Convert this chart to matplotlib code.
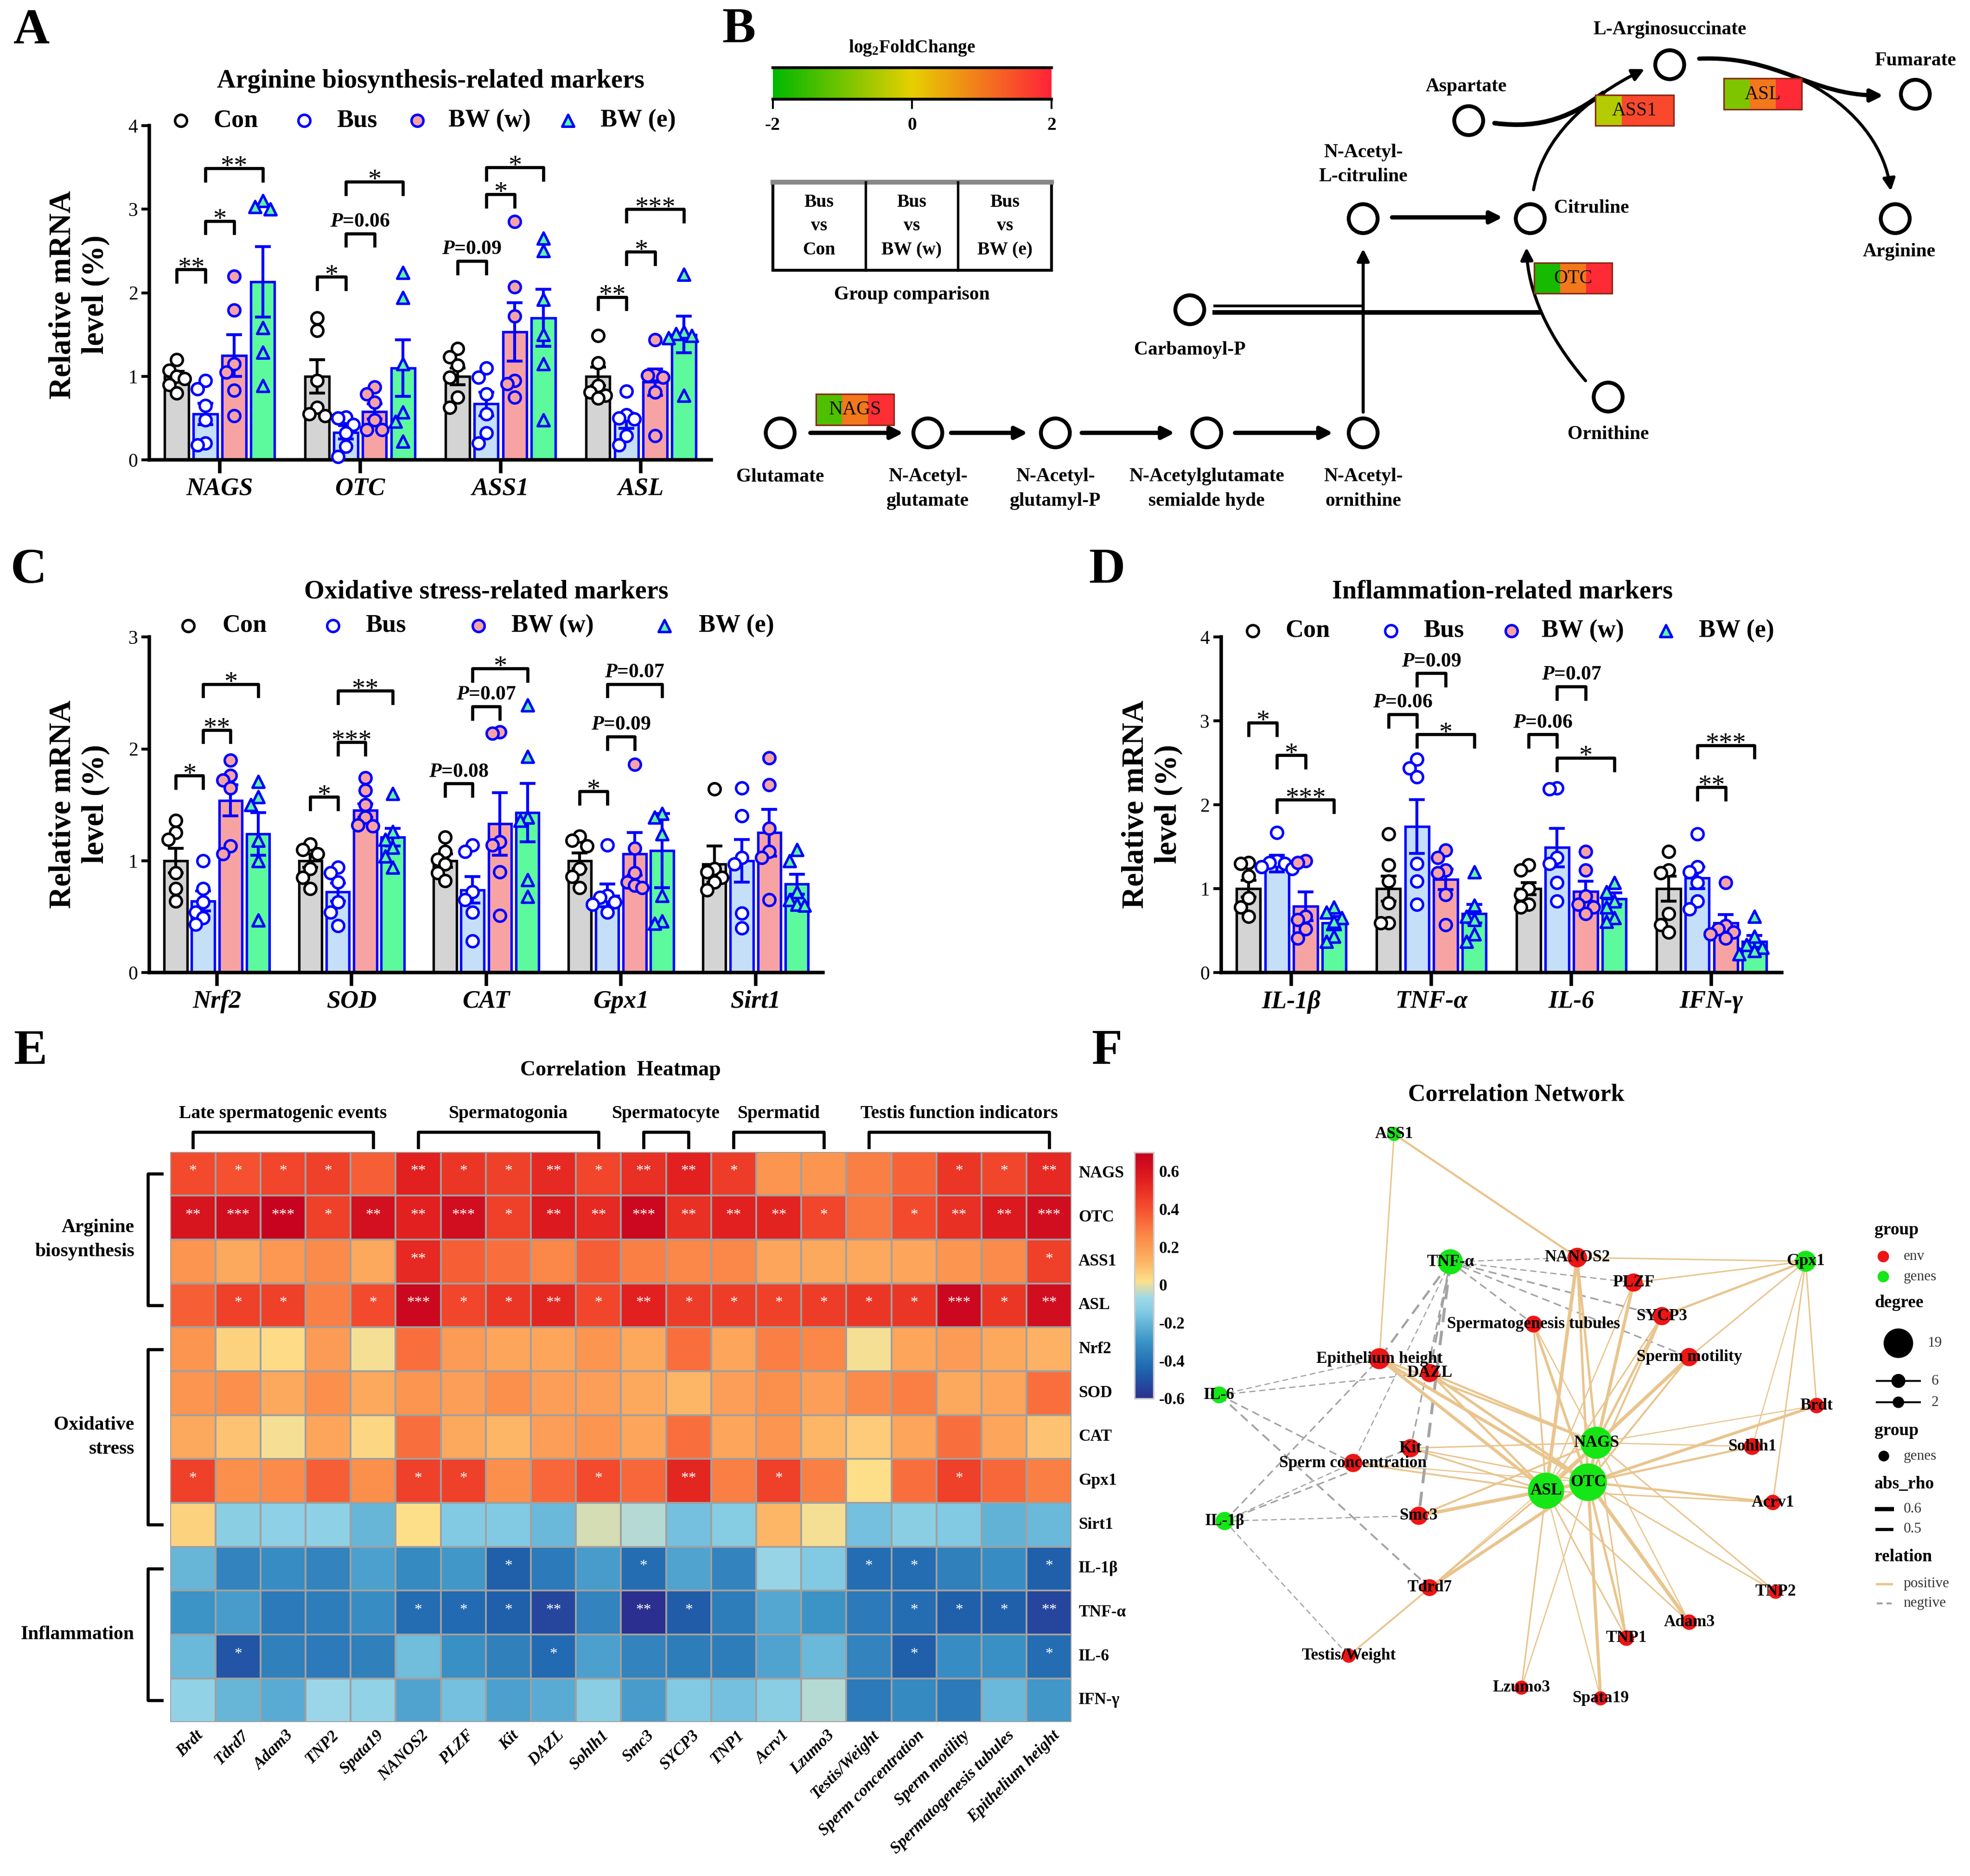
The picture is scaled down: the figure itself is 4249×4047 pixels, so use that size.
import numpy as np
import matplotlib
matplotlib.use("Agg")
import matplotlib.pyplot as plt
from matplotlib.patches import Circle, Rectangle, FancyArrowPatch
from matplotlib.path import Path
from matplotlib.colors import LinearSegmentedColormap, Normalize
from matplotlib.cm import ScalarMappable

plt.rcParams["font.family"] = ["Liberation Serif", "DejaVu Serif"]
plt.rcParams["mathtext.fontset"] = "custom"
plt.rcParams["mathtext.rm"] = "Liberation Serif:bold"
plt.rcParams["mathtext.it"] = "Liberation Serif:italic:bold"
plt.rcParams["mathtext.bf"] = "Liberation Serif:bold"
plt.rcParams["axes.unicode_minus"] = False

# ---------------- data ----------------
groups = ["Con", "Bus", "BW (w)", "BW (e)"]

# A: arginine biosynthesis markers, values [group][gene]
arg_genes = ["NAGS", "OTC", "ASS1", "ASL"]
arg_mean = [[1.0, 1.0, 1.0, 1.0], [0.55, 0.33, 0.67, 0.47],
            [1.25, 0.58, 1.53, 0.93], [2.13, 1.10, 1.70, 1.50]]
arg_sem = [[0.06, 0.20, 0.10, 0.11], [0.13, 0.08, 0.14, 0.09],
           [0.25, 0.09, 0.35, 0.16], [0.42, 0.34, 0.34, 0.22]]
arg_pts = [
    [[1.2, 1.07, 1.0, 0.97, 0.9, 0.8], [1.7, 1.55, 0.95, 0.63, 0.55, 0.53],
     [1.33, 1.23, 1.13, 0.99, 0.75, 0.63], [1.49, 1.16, 0.89, 0.81, 0.77, 0.74]],
    [[0.95, 0.85, 0.65, 0.48, 0.2, 0.18], [0.51, 0.5, 0.42, 0.32, 0.16, 0.04],
     [1.1, 0.99, 0.79, 0.55, 0.32, 0.2], [0.82, 0.54, 0.5, 0.49, 0.29, 0.18]],
    [[2.2, 1.79, 1.15, 1.05, 0.83, 0.53], [0.87, 0.79, 0.69, 0.48, 0.36, 0.36],
     [2.85, 2.07, 1.72, 0.95, 0.91, 0.75], [1.44, 1.02, 1.01, 0.99, 0.81, 0.29]],
    [[3.1, 3.03, 3.0, 1.58, 1.29, 0.89], [2.24, 1.94, 1.15, 0.57, 0.46, 0.22],
     [2.65, 2.5, 1.92, 1.5, 1.15, 0.48], [2.22, 1.53, 1.51, 1.49, 1.46, 0.77]],
]
# (gene, group a, group b, height, label)
arg_sig = [(0, 0, 1, 2.28, "**"), (0, 1, 2, 2.86, "*"), (0, 1, 3, 3.49, "**"),
           (1, 0, 1, 2.19, "*"), (1, 1, 2, 2.71, "P=0.06"), (1, 1, 3, 3.33, "*"),
           (2, 0, 1, 2.38, "P=0.09"), (2, 1, 2, 3.18, "*"), (2, 1, 3, 3.50, "*"),
           (3, 0, 1, 1.95, "**"), (3, 1, 2, 2.49, "*"), (3, 1, 3, 3.00, "***")]

# C: oxidative stress markers
ox_genes = ["Nrf2", "SOD", "CAT", "Gpx1", "Sirt1"]
ox_mean = [[1.0, 1.0, 1.0, 1.0, 0.97], [0.64, 0.72, 0.74, 0.69, 1.0],
           [1.54, 1.45, 1.33, 1.06, 1.25], [1.24, 1.21, 1.43, 1.09, 0.79]]
ox_sem = [[0.11, 0.06, 0.06, 0.07, 0.16], [0.09, 0.08, 0.12, 0.10, 0.19],
          [0.14, 0.06, 0.28, 0.19, 0.21], [0.19, 0.08, 0.26, 0.33, 0.09]]
ox_pts = [
    [[1.36, 1.25, 1.19, 0.89, 0.75, 0.64], [1.15, 1.1, 1.06, 0.93, 0.85, 0.75],
     [1.21, 1.08, 1.01, 0.97, 0.89, 0.82], [1.22, 1.18, 1.13, 0.93, 0.86, 0.76],
     [1.64, 0.93, 0.9, 0.85, 0.81, 0.74]],
    [[1.0, 0.75, 0.63, 0.54, 0.49, 0.43], [0.94, 0.89, 0.81, 0.63, 0.54, 0.42],
     [1.14, 1.08, 0.72, 0.65, 0.54, 0.28], [1.14, 0.69, 0.67, 0.63, 0.61, 0.54],
     [1.65, 1.4, 1.03, 0.97, 0.53, 0.4]],
    [[1.9, 1.76, 1.72, 1.65, 1.13, 1.06], [1.74, 1.63, 1.5, 1.39, 1.32, 1.31],
     [2.15, 2.14, 1.17, 1.14, 0.9, 0.51], [1.86, 1.11, 0.89, 0.81, 0.78, 0.76],
     [1.92, 1.68, 1.29, 1.08, 1.03, 0.65]],
    [[1.71, 1.57, 1.5, 1.18, 1.0, 0.47], [1.6, 1.26, 1.19, 1.12, 1.04, 0.94],
     [2.39, 1.93, 1.39, 1.36, 0.83, 0.68], [1.42, 1.39, 1.24, 0.69, 0.46, 0.44],
     [1.1, 1.0, 0.72, 0.65, 0.61, 0.6]],
]
ox_sig = [(0, 0, 1, 1.76, "*"), (0, 1, 2, 2.17, "**"), (0, 1, 3, 2.58, "*"),
          (1, 0, 1, 1.57, "*"), (1, 1, 2, 2.06, "***"), (1, 1, 3, 2.52, "**"),
          (2, 0, 1, 1.69, "P=0.08"), (2, 1, 2, 2.38, "P=0.07"), (2, 1, 3, 2.72, "*"),
          (3, 0, 1, 1.62, "*"), (3, 1, 2, 2.11, "P=0.09"), (3, 1, 3, 2.58, "P=0.07")]

# D: inflammation markers
inf_genes = ["IL-1β", "TNF-α", "IL-6", "IFN-γ"]
inf_mean = [[1.0, 1.0, 1.0, 1.0], [1.30, 1.74, 1.49, 1.13],
            [0.79, 1.11, 0.97, 0.59], [0.59, 0.70, 0.88, 0.37]]
inf_sem = [[0.10, 0.15, 0.07, 0.15], [0.10, 0.32, 0.23, 0.13],
           [0.17, 0.12, 0.12, 0.10], [0.08, 0.11, 0.07, 0.07]]
inf_pts = [
    [[1.31, 1.3, 1.15, 0.89, 0.78, 0.67], [1.65, 1.28, 1.09, 0.83, 0.59, 0.59],
     [1.28, 1.22, 1.0, 0.93, 0.81, 0.78], [1.44, 1.22, 1.19, 0.7, 0.57, 0.48]],
    [[1.67, 1.33, 1.31, 1.3, 1.26, 1.24], [2.54, 2.44, 2.33, 1.3, 1.09, 0.81],
     [2.2, 2.19, 1.37, 1.3, 1.07, 0.85], [1.65, 1.26, 1.2, 1.07, 0.85, 0.76]],
    [[1.33, 1.31, 0.67, 0.63, 0.52, 0.41], [1.46, 1.37, 1.22, 1.19, 0.93, 0.57],
     [1.44, 1.22, 0.91, 0.81, 0.78, 0.7], [1.07, 0.56, 0.52, 0.48, 0.46, 0.41]],
    [[0.78, 0.72, 0.65, 0.61, 0.43, 0.37], [1.2, 0.8, 0.67, 0.63, 0.46, 0.37],
     [1.07, 0.96, 0.85, 0.78, 0.65, 0.61], [0.67, 0.43, 0.33, 0.3, 0.26, 0.22]],
]
inf_sig = [(0, 0, 1, 2.98, "*"), (0, 1, 2, 2.59, "*"), (0, 1, 3, 2.06, "***"),
           (1, 0, 1, 3.08, "P=0.06"), (1, 1, 2, 3.57, "P=0.09"), (1, 1, 3, 2.84, "*"),
           (2, 0, 1, 2.84, "P=0.06"), (2, 1, 2, 3.41, "P=0.07"), (2, 1, 3, 2.56, "*"),
           (3, 1, 2, 2.21, "**"), (3, 1, 3, 2.71, "***")]

# B: log2 fold change of enzymes (Bus vs Con, Bus vs BW(w), Bus vs BW(e))
enzymes = ["NAGS", "ASS1", "ASL", "OTC"]
enzyme_fc = [[-1.3, 1.0, 1.85], [-0.45, 1.55, 1.55], [-0.9, 1.0, 1.9], [-1.8, 1.0, 1.9]]

# E: correlation heatmap
hm_rows = ["NAGS", "OTC", "ASS1", "ASL", "Nrf2", "SOD", "CAT", "Gpx1", "Sirt1",
           "IL-1β", "TNF-α", "IL-6", "IFN-γ"]
hm_cols = ["Brdt", "Tdrd7", "Adam3", "TNP2", "Spata19", "NANOS2", "PLZF", "Kit", "DAZL",
           "Sohlh1", "Smc3", "SYCP3", "TNP1", "Acrv1", "Lzumo3", "Testis/Weight",
           "Sperm concentration", "Sperm motility", "Spermatogenesis tubules",
           "Epithelium height"]
corr = [
    [0.42, 0.40, 0.43, 0.45, 0.36, 0.55, 0.48, 0.45, 0.52, 0.43, 0.50, 0.55, 0.46, 0.22, 0.22, 0.28, 0.35, 0.48, 0.43, 0.52],
    [0.60, 0.63, 0.68, 0.45, 0.62, 0.55, 0.63, 0.45, 0.58, 0.52, 0.66, 0.50, 0.55, 0.54, 0.43, 0.30, 0.42, 0.50, 0.58, 0.63],
    [0.22, 0.16, 0.21, 0.25, 0.16, 0.52, 0.36, 0.32, 0.26, 0.36, 0.28, 0.26, 0.26, 0.17, 0.16, 0.16, 0.17, 0.22, 0.25, 0.45],
    [0.36, 0.45, 0.45, 0.28, 0.42, 0.66, 0.43, 0.48, 0.53, 0.43, 0.55, 0.46, 0.46, 0.45, 0.46, 0.48, 0.48, 0.66, 0.48, 0.63],
    [0.22, 0.05, 0.03, 0.20, 0.01, 0.32, 0.20, 0.17, 0.17, 0.22, 0.16, 0.32, 0.17, 0.28, 0.26, 0.01, 0.17, 0.20, 0.16, 0.13],
    [0.22, 0.24, 0.16, 0.24, 0.16, 0.22, 0.19, 0.24, 0.19, 0.19, 0.16, 0.12, 0.19, 0.24, 0.19, 0.25, 0.28, 0.16, 0.17, 0.32],
    [0.16, 0.09, 0.01, 0.17, 0.04, 0.32, 0.16, 0.12, 0.19, 0.22, 0.17, 0.32, 0.17, 0.22, 0.12, 0.07, 0.17, 0.32, 0.17, 0.09],
    [0.45, 0.24, 0.25, 0.36, 0.24, 0.45, 0.45, 0.24, 0.34, 0.42, 0.34, 0.53, 0.28, 0.45, 0.28, 0.02, 0.32, 0.45, 0.34, 0.28],
    [0.05, -0.12, -0.11, -0.11, -0.20, 0.02, -0.14, -0.14, -0.19, -0.02, -0.05, -0.17, -0.13, 0.12, 0.01, -0.17, -0.12, -0.14, -0.21, -0.19],
    [-0.20, -0.35, -0.32, -0.35, -0.26, -0.33, -0.29, -0.46, -0.38, -0.27, -0.42, -0.25, -0.35, -0.09, -0.14, -0.42, -0.42, -0.36, -0.32, -0.46],
    [-0.30, -0.27, -0.38, -0.37, -0.32, -0.42, -0.43, -0.46, -0.53, -0.35, -0.60, -0.47, -0.37, -0.24, -0.30, -0.38, -0.42, -0.46, -0.46, -0.53],
    [-0.19, -0.49, -0.36, -0.38, -0.36, -0.18, -0.31, -0.36, -0.43, -0.26, -0.35, -0.37, -0.37, -0.25, -0.19, -0.35, -0.46, -0.32, -0.31, -0.42],
    [-0.10, -0.20, -0.23, -0.08, -0.10, -0.25, -0.17, -0.26, -0.23, -0.12, -0.27, -0.14, -0.17, -0.12, -0.05, -0.38, -0.33, -0.38, -0.19, -0.29],
]
# number of stars per cell
sig = [
    [1, 1, 1, 1, 0, 2, 1, 1, 2, 1, 2, 2, 1, 0, 0, 0, 0, 1, 1, 2],
    [2, 3, 3, 1, 2, 2, 3, 1, 2, 2, 3, 2, 2, 2, 1, 0, 1, 2, 2, 3],
    [0, 0, 0, 0, 0, 2, 0, 0, 0, 0, 0, 0, 0, 0, 0, 0, 0, 0, 0, 1],
    [0, 1, 1, 0, 1, 3, 1, 1, 2, 1, 2, 1, 1, 1, 1, 1, 1, 3, 1, 2],
    [0] * 20, [0] * 20, [0] * 20,
    [1, 0, 0, 0, 0, 1, 1, 0, 0, 1, 0, 2, 0, 1, 0, 0, 0, 1, 0, 0],
    [0] * 20,
    [0, 0, 0, 0, 0, 0, 0, 1, 0, 0, 1, 0, 0, 0, 0, 1, 1, 0, 0, 1],
    [0, 0, 0, 0, 0, 1, 1, 1, 2, 0, 2, 1, 0, 0, 0, 0, 1, 1, 1, 2],
    [0, 1, 0, 0, 0, 0, 0, 0, 1, 0, 0, 0, 0, 0, 0, 0, 1, 0, 0, 1],
    [0] * 20,
]
col_groups = [("Late spermatogenic events", 0, 4), ("Spermatogonia", 5, 9),
              ("Spermatocyte", 10, 11), ("Spermatid", 12, 14),
              ("Testis function indicators", 15, 19)]
row_groups = [("Arginine\nbiosynthesis", 0, 3), ("Oxidative\nstress", 4, 8),
              ("Inflammation", 9, 12)]

# ---------------- layout helpers (units = pixels of a 1568 x 1493 view) ----------------
W, H = 1568.0, 1493.0


def rect(x0, y0, x1, y1):
    return [x0 / W, 1 - y1 / H, (x1 - x0) / W, (y1 - y0) / H]


fig = plt.figure(figsize=(4249 / 300, 4047 / 300), dpi=300)
ov = fig.add_axes([0, 0, 1, 1])
ov.set_xlim(0, W)
ov.set_ylim(H, 0)
ov.axis("off")
ov.set_zorder(5)
ov.patch.set_visible(False)


def txt(x, y, s, size, **kw):
    kw.setdefault("ha", "center")
    kw.setdefault("va", "center")
    ov.text(x, y, s, fontsize=size, **kw)


bar_fill = ["#d4d4d4", "#c4dff7", "#f7a3a3", "#5df99d"]
bar_edge = ["black", "#0000ff", "#0000ff", "#0000ff"]
pt_face = ["white", "white", "#f7a3a3", "#5df99d"]
pt_marker = ["o", "o", "o", "^"]
offs = [-0.306, -0.102, 0.102, 0.306]


def swarm(vals, step, gap):
    placed, out = [], []
    for v in vals:
        for o in (0.0, -step, step, -2 * step, 2 * step):
            if all(abs(v - pv) >= gap or abs(o - po) >= step * 0.9 for pv, po in placed):
                break
        placed.append((v, o))
        out.append(o)
    return np.array(out)


def bar_panel(box, genes, means, sems, pts, brackets, ymax):
    ax = fig.add_axes(rect(*box))
    ax.patch.set_visible(False)
    n = len(genes)
    x = np.arange(n)
    gap = 0.036 * ymax
    leg = 0.037 * ymax
    for g in range(4):
        xs = x + offs[g]
        ax.bar(xs, means[g], width=0.17, color=bar_fill[g], edgecolor=bar_edge[g],
               linewidth=1.3, zorder=1)
        ax.errorbar(xs, means[g], yerr=sems[g], fmt="none", ecolor=bar_edge[g],
                    elinewidth=1.5, capsize=4, capthick=1.5, zorder=2)
        for k in range(n):
            v = np.array(pts[g][k])
            ax.scatter(xs[k] + swarm(v, 0.055, gap), v, s=38, marker=pt_marker[g],
                       facecolor=pt_face[g], edgecolor=bar_edge[g], linewidth=1.3,
                       zorder=3, clip_on=False)
    for k, a, b, y, lab in brackets:
        x1, x2 = k + offs[a], k + offs[b]
        ax.plot([x1, x1, x2, x2], [y - leg, y, y, y - leg], color="black", lw=1.6,
                clip_on=False)
        if lab.startswith("P"):
            ax.annotate(r"$\it{P}$" + lab[1:], ((x1 + x2) / 2, y), xytext=(0, 3.5),
                        textcoords="offset points", ha="center", va="baseline",
                        fontsize=10.5, fontweight="bold", annotation_clip=False)
        else:
            ax.annotate(lab, ((x1 + x2) / 2, y), xytext=(0, -3),
                        textcoords="offset points", ha="center", va="baseline",
                        fontsize=14, annotation_clip=False)
    ax.set_xlim(-0.5, n - 0.5)
    ax.set_ylim(0, ymax)
    ax.set_yticks(range(ymax + 1))
    ax.set_xticks(x)
    ax.set_xticklabels(genes, fontsize=13, fontstyle="italic", fontweight="bold")
    for s in ["top", "right"]:
        ax.spines[s].set_visible(False)
    for s in ["left", "bottom"]:
        ax.spines[s].set_linewidth(1.8)
    ax.tick_params(axis="y", length=4, width=1.5, labelsize=10, pad=2)
    ax.tick_params(axis="x", length=7, width=1.8, pad=2)
    return ax


def legend_row(y, mx, tx):
    for g in range(4):
        ov.scatter(mx[g], y, s=38, marker=pt_marker[g], facecolor=pt_face[g],
                   edgecolor=bar_edge[g], linewidth=1.3)
        txt(tx[g], y, groups[g], 13, ha="left", fontweight="bold")


# ---------------- panel A ----------------
bar_panel((119, 100, 566, 366), arg_genes, arg_mean, arg_sem, arg_pts, arg_sig, 4)
txt(343, 64.5, "Arginine biosynthesis-related markers", 13.5, fontweight="bold")
legend_row(96, [144, 242, 332, 452], [170, 268, 357, 478])
txt(63, 234.5, "Relative mRNA\nlevel (%)", 16, rotation=90, fontweight="bold")
txt(25, 25, "A", 26, fontweight="bold")

# ---------------- panel C ----------------
bar_panel((119, 507, 655, 774), ox_genes, ox_mean, ox_sem, ox_pts, ox_sig, 3)
txt(387, 471, "Oxidative stress-related markers", 13.5, fontweight="bold")
legend_row(498, [150, 265, 381, 529], [177, 291, 407, 556])
txt(63, 640, "Relative mRNA\nlevel (%)", 16, rotation=90, fontweight="bold")
txt(23, 454, "C", 26, fontweight="bold")

# ---------------- panel D ----------------
bar_panel((972, 507, 1418, 774), inf_genes, inf_mean, inf_sem, inf_pts, inf_sig, 4)
txt(1196, 471, "Inflammation-related markers", 13.5, fontweight="bold")
legend_row(502, [997, 1107, 1203, 1326], [1023, 1133, 1227, 1352])
txt(917, 640, "Relative mRNA\nlevel (%)", 16, rotation=90, fontweight="bold")
txt(881, 454, "D", 26, fontweight="bold")

# ---------------- panel B: pathway ----------------
txt(588, 24, "B", 26, fontweight="bold")
fc_cmap = LinearSegmentedColormap.from_list("fc", ["#00b800", "#e6d000", "#ff2238"])
fc_norm = Normalize(-2, 2)
gax = fig.add_axes(rect(615, 54, 837, 79))
gcb = fig.colorbar(ScalarMappable(norm=fc_norm, cmap=fc_cmap), cax=gax,
                   orientation="horizontal", ticks=[-2, 0, 2])
gcb.outline.set_visible(False)
gax.tick_params(length=5, width=1, pad=4, labelsize=9.5)
for t in gax.get_xticklabels():
    t.set_fontweight("bold")
ov.plot([615, 837], [54, 54], color="black", lw=1.5)
ov.plot([615, 837], [79, 79], color="black", lw=1.5)
txt(726, 38, r"log$_2$FoldChange", 9.5, fontweight="bold")

ov.add_patch(Rectangle((615, 145), 222, 70, fill=False, edgecolor="black", lw=1.5))
ov.plot([615, 837], [145, 145], color="#888888", lw=2.5)
for xd in (688.8, 762.5):
    ov.plot([xd, xd], [145, 215], color="black", lw=1.3)
for xc, lab in zip((652, 725.7, 800), ("Con", "BW (w)", "BW (e)")):
    txt(xc, 161, "Bus", 9.5, fontweight="bold")
    txt(xc, 180, "vs", 9.5, fontweight="bold")
    txt(xc, 199, lab, 9.5, fontweight="bold")
txt(726, 234.5, "Group comparison", 10, fontweight="bold")

node_xy = {"Glutamate": (621, 344.5), "NAG": (738.5, 344.5), "NAGP": (840, 344.5),
           "NAGSA": (960.5, 344.5), "NAO": (1085, 344.5), "NALC": (1085, 174),
           "Citruline": (1218, 174), "Carbamoyl": (947, 246.5), "Ornithine": (1280, 316),
           "Aspartate": (1169, 96), "LArg": (1329, 51.5), "Fumarate": (1524.5, 75),
           "Arginine": (1508.5, 174)}
for key, (x0, y0) in node_xy.items():
    ov.add_patch(Circle((x0, y0), 11.5, facecolor="white", edgecolor="black", lw=2, zorder=3))

labels_B = [(621, 379.6, "Glutamate"), (738.5, 389, "N-Acetyl-\nglutamate"),
            (840, 389, "N-Acetyl-\nglutamyl-P"), (960.5, 389, "N-Acetylglutamate\nsemialde hyde"),
            (1085, 389, "N-Acetyl-\nornithine"), (1085, 131, "N-Acetyl-\nL-citruline"),
            (947, 278.6, "Carbamoyl-P"), (1280, 345.8, "Ornithine"),
            (1167, 69, "Aspartate"), (1329, 23.7, "L-Arginosuccinate"),
            (1524.5, 48.2, "Fumarate"), (1511.5, 200.3, "Arginine")]
for x0, y0, s in labels_B:
    txt(x0, y0, s, 10, fontweight="bold", linespacing=1.5)
txt(1237, 165.5, "Citruline", 10, fontweight="bold", ha="left")


def arrow(p0, p1, lw=2.2):
    ov.annotate("", xy=p1, xytext=p0,
                arrowprops=dict(arrowstyle="-|>", color="black", lw=lw,
                                mutation_scale=13, shrinkA=0, shrinkB=0))


def curve(p0, c1, c2, p3, head=True, lw=1.6):
    path = Path([p0, c1, c2, p3], [Path.MOVETO, Path.CURVE4, Path.CURVE4, Path.CURVE4])
    ov.add_patch(FancyArrowPatch(path=path, arrowstyle="-|>" if head else "-",
                                 mutation_scale=13, lw=lw, color="black", zorder=2))


arrow((645, 344.5), (719, 344.5))
arrow((757, 344.5), (818, 344.5))
arrow((861, 344.5), (935, 344.5))
arrow((983, 344.5), (1061, 344.5))
arrow((1085, 328), (1085, 198), lw=1.6)
arrow((1108, 173), (1196, 173))
ov.plot([967, 1085], [243.5, 243.5], color="black", lw=1.4)
ov.plot([967, 1226], [248.5, 248.5], color="black", lw=2.4)
curve((1262, 303), (1232, 268), (1216, 232), (1215, 197))
curve((1220.6, 151), (1228, 110), (1262, 78), (1309, 55))
curve((1189.6, 98), (1228, 103), (1252, 92), (1276, 74), head=False, lw=2.4)
curve((1352.5, 46.7), (1415, 44), (1440, 76), (1499, 76), lw=2.2)
curve((1352.5, 46.7), (1425, 44), (1496, 88), (1505, 152))

enzyme_box = {"NAGS": (649.5, 313.7), "ASS1": (1270, 75.5), "ASL": (1372, 62.5),
              "OTC": (1221, 209)}
for name, fcs in zip(enzymes, enzyme_fc):
    bx, by = enzyme_box[name]
    for i, v in enumerate(fcs):
        ov.add_patch(Rectangle((bx + i * 20.7, by), 20.7, 24.5, facecolor=fc_cmap(fc_norm(v)),
                               edgecolor="none", zorder=4))
    ov.add_patch(Rectangle((bx, by), 62.1, 24.5, fill=False, edgecolor="#8a2a18",
                           lw=0.8, zorder=4))
    txt(bx + 31, by + 12.5, name, 10, color="#111111", zorder=5)

# ---------------- panel E: heatmap ----------------
txt(24, 837, "E", 26, fontweight="bold")
txt(494, 852, "Correlation  Heatmap", 11, fontweight="bold")
hm_vals = [-0.6, -0.45, -0.3, -0.15, -0.07, 0.02, 0.12, 0.25, 0.4, 0.55, 0.7]
hm_cols_c = ["#2b2f8f", "#1f64ae", "#3b93c6", "#7ec8e2", "#9ed8e8", "#fde08b", "#fdb466",
             "#fb8c4a", "#f5502f", "#e2201f", "#c4001f"]
hm_pos = np.clip([(v + 0.6) / 1.3 for v in hm_vals], 0, 1)
hm_pos[0], hm_pos[-1] = 0.0, 1.0
hm_cmap = LinearSegmentedColormap.from_list("hm", list(zip(hm_pos, hm_cols_c)))
hx = fig.add_axes(rect(135.6, 916.6, 853, 1370.6))
mesh = hx.pcolormesh(np.array(corr), cmap=hm_cmap, vmin=-0.6, vmax=0.7,
                     edgecolors="#a0a0a0", linewidth=0.9)
hx.set_xlim(0, 20)
hx.set_ylim(13, 0)
hx.axis("off")
for i in range(len(hm_rows)):
    hx.text(20.15, i + 0.5, hm_rows[i], fontsize=8.5, fontweight="bold", va="center",
            ha="left", clip_on=False)
    for j in range(len(hm_cols)):
        if sig[i][j]:
            hx.text(j + 0.5, i + 0.45, "*" * sig[i][j], color="white", fontsize=8,
                    ha="center", va="center")
for j, c in enumerate(hm_cols):
    hx.text(j + 0.68, 13.25, c, fontsize=8.5, fontstyle="italic", fontweight="bold",
            rotation=45, rotation_mode="anchor", ha="right", va="center", clip_on=False)
for name, a, b in col_groups:
    hx.plot([a + 0.5, a + 0.5, b + 0.5, b + 0.5], [-0.1, -0.45, -0.45, -0.1],
            color="black", lw=1.6, clip_on=False)
    hx.text((a + b + 1) / 2, -0.87, name, fontsize=9.5, fontweight="bold", ha="center",
            va="center", clip_on=False)
for name, a, b in row_groups:
    hx.plot([-0.19, -0.5, -0.5, -0.19], [a + 0.5, a + 0.5, b + 0.5, b + 0.5],
            color="black", lw=1.6, clip_on=False)
    hx.text(-0.8, (a + b + 1) / 2, name, fontsize=10, fontweight="bold", ha="right",
            va="center", clip_on=False, linespacing=1.5)
cax = fig.add_axes(rect(903, 917, 918, 1113))
cb = fig.colorbar(mesh, cax=cax, ticks=[0.6, 0.4, 0.2, 0, -0.2, -0.4, -0.6])
cb.ax.set_yticklabels(["0.6", "0.4", "0.2", "0", "-0.2", "-0.4", "-0.6"])
cb.outline.set_edgecolor("#cccccc")
cax.tick_params(length=0, labelsize=8.5, pad=3)
for t in cax.get_yticklabels():
    t.set_fontweight("bold")

# ---------------- panel F: network ----------------
txt(881, 837, "F", 26, fontweight="bold")
txt(1207, 871.5, "Correlation Network", 12.5, fontweight="bold")
net_xy = {"ASS1": (1109.6, 902.5), "NANOS2": (1255.4, 1000.8), "TNF-α": (1154.4, 1004.2),
          "Gpx1": (1437.2, 1003.8), "PLZF": (1300.2, 1020.7), "SYCP3": (1322.8, 1047.4),
          "Spermatogenesis tubules": (1220.6, 1053.8), "Epithelium height": (1097.9, 1081.3),
          "Sperm motility": (1344.5, 1080.0), "DAZL": (1137.9, 1092.7), "IL-6": (970.4, 1110.1),
          "Brdt": (1445.9, 1118.6), "NAGS": (1270.6, 1148.2), "Kit": (1122.7, 1152.5),
          "Sohlh1": (1394.6, 1151.2), "Sperm concentration": (1077.0, 1164.3),
          "OTC": (1264.0, 1179.6), "ASL": (1230.6, 1186.4), "Acrv1": (1411.1, 1195.7),
          "IL-1β": (974.8, 1210.5), "Smc3": (1129.2, 1206.3), "Tdrd7": (1137.9, 1263.5),
          "TNP2": (1413.3, 1266.8), "Adam3": (1344.5, 1291.0), "TNP1": (1294.5, 1303.7),
          "Testis/Weight": (1073.5, 1317.7), "Lzumo3": (1211.0, 1343.1),
          "Spata19": (1274.0, 1351.6)}
edges = [(hm_rows[i], hm_cols[j], corr[i][j]) for i in range(len(hm_rows))
         for j in range(len(hm_cols)) if sig[i][j]]
degree = {}
for a, b, r in edges:
    degree[a] = degree.get(a, 0) + 1
    degree[b] = degree.get(b, 0) + 1
for a, b, r in sorted(edges, key=lambda e: abs(e[2])):
    (xa, ya), (xb, yb) = net_xy[a], net_xy[b]
    lw = 0.6 + (abs(r) - 0.42) * 5
    if r > 0:
        ov.plot([xa, xb], [ya, yb], color="#e9c58d", lw=lw, zorder=2)
    else:
        ov.plot([xa, xb], [ya, yb], color="#a3a3a3", lw=lw, ls=(0, (5, 3)), zorder=2)
for name, (x0, y0) in net_xy.items():
    col = "#16e616" if name in hm_rows else "#ee1515"
    ov.add_patch(Circle((x0, y0), 4.5 + 0.55 * degree[name], facecolor=col,
                        edgecolor="none", zorder=3))
    txt(x0, y0, name, 8.5, fontweight="bold", zorder=4)

lx = 1492
txt(lx, 979, "group", 9, fontweight="bold", ha="left")
ov.add_patch(Circle((1499, 1000), 3.8, color="#ee1515"))
txt(1515, 1000, "env", 7.5, ha="left", color="#333333")
ov.add_patch(Circle((1499, 1016), 3.8, color="#16e616"))
txt(1515, 1016, "genes", 7.5, ha="left", color="#333333")
txt(lx, 1037, "degree", 9, fontweight="bold", ha="left")
ov.add_patch(Circle((1511, 1069), 11, color="black"))
txt(1540, 1069, "19", 7.5, ha="center", color="#333333")
for yy, rr, lab in ((1099, 4.8, "6"), (1116, 3.8, "2")):
    ov.plot([1494, 1528], [yy, yy], color="black", lw=1)
    ov.add_patch(Circle((1511, yy), rr, color="black"))
    txt(1540, yy, lab, 7.5, ha="center", color="#333333")
txt(lx, 1138.5, "group", 9, fontweight="bold", ha="left")
ov.add_patch(Circle((1499.4, 1158.8), 3.5, color="black"))
txt(1515, 1159, "genes", 7.5, ha="left", color="#333333")
txt(lx, 1181, "abs_rho", 9, fontweight="bold", ha="left")
ov.plot([1494, 1505.5], [1201, 1201], color="black", lw=2.2)
txt(1515, 1201, "0.6", 7.5, ha="left", color="#333333")
ov.plot([1494, 1505.5], [1217, 1217], color="black", lw=1.6)
txt(1515, 1217, "0.5", 7.5, ha="left", color="#333333")
txt(lx, 1239, "relation", 9, fontweight="bold", ha="left")
ov.plot([1494, 1505.5], [1260.5, 1260.5], color="#e9c58d", lw=1.2)
txt(1515, 1260.5, "positive", 7.5, ha="left", color="#333333")
ov.plot([1494, 1505.5], [1276, 1276], color="#a3a3a3", lw=1.0, ls=(0, (3, 2)))
txt(1515, 1276, "negtive", 7.5, ha="left", color="#333333")

fig.savefig("out.png", dpi=300)
